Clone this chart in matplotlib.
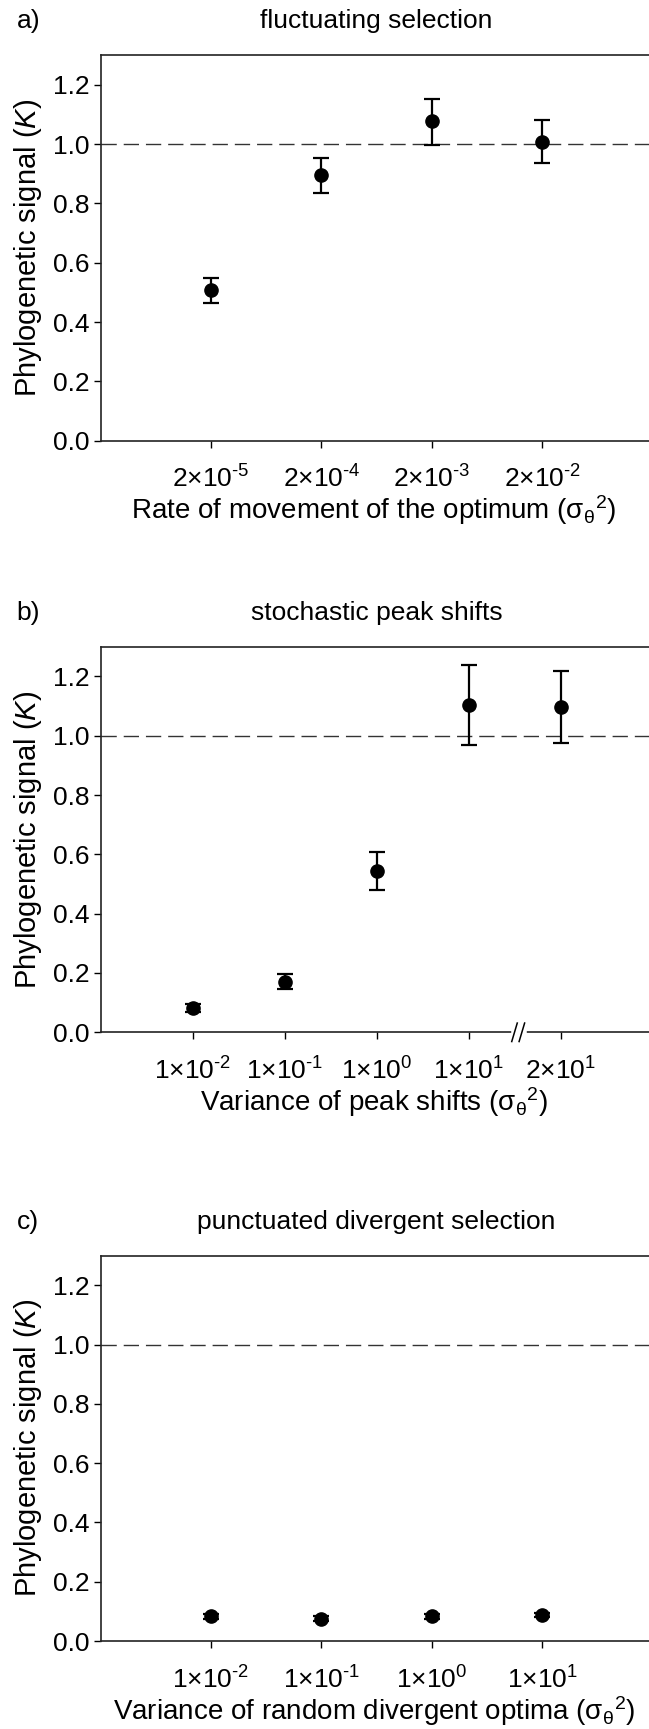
import matplotlib
matplotlib.use("Agg")
import matplotlib.pyplot as plt

plt.rcParams['font.family'] = ['Liberation Sans', 'DejaVu Sans']
plt.rcParams['mathtext.fontset'] = 'custom'
plt.rcParams['mathtext.rm'] = 'Liberation Sans'
plt.rcParams['mathtext.it'] = 'Liberation Sans:italic'
plt.rcParams['mathtext.bf'] = 'Liberation Sans:bold'
plt.rcParams['mathtext.default'] = 'regular'

# ---------------- data ----------------
a_labels = [r"$2{\times}10^{\text{-}5}$", r"$2{\times}10^{\text{-}4}$", r"$2{\times}10^{\text{-}3}$", r"$2{\times}10^{\text{-}2}$"]
a_k = [0.507, 0.895, 1.077, 1.008]
a_lo = [0.466, 0.836, 0.997, 0.935]
a_hi = [0.550, 0.952, 1.154, 1.082]

b_labels = [r"$1{\times}10^{\text{-}2}$", r"$1{\times}10^{\text{-}1}$", r"$1{\times}10^{0}$", r"$1{\times}10^{1}$", r"$2{\times}10^{1}$"]
b_k = [0.083, 0.171, 0.543, 1.103, 1.097]
b_lo = [0.070, 0.147, 0.479, 0.970, 0.976]
b_hi = [0.096, 0.197, 0.607, 1.237, 1.218]

c_labels = [r"$1{\times}10^{\text{-}2}$", r"$1{\times}10^{\text{-}1}$", r"$1{\times}10^{0}$", r"$1{\times}10^{1}$"]
c_k = [0.083, 0.076, 0.083, 0.088]
c_lo = [0.074, 0.068, 0.074, 0.080]
c_hi = [0.092, 0.084, 0.092, 0.096]

y_ticks = [0.0, 0.2, 0.4, 0.6, 0.8, 1.0, 1.2]

SIG = r"($\mathrm{σ}_{\mathrm{θ}}{}^{2}$)"
panels = [
    dict(tag="a)", title="fluctuating selection", labels=a_labels, k=a_k, lo=a_lo, hi=a_hi,
         xlabel="Rate of movement of the optimum " + SIG, xmax=5, bottom=0.7451),
    dict(tag="b)", title="stochastic peak shifts", labels=b_labels, k=b_k, lo=b_lo, hi=b_hi,
         xlabel="Variance of peak shifts " + SIG, xmax=6, bottom=0.40295),
    dict(tag="c)", title="punctuated divergent selection", labels=c_labels, k=c_k, lo=c_lo, hi=c_hi,
         xlabel="Variance of random divergent optima " + SIG, xmax=5, bottom=0.05084),
]

W, H = 649, 1729
fig = plt.figure(figsize=(W / 100, H / 100), dpi=100)

ax_h_px = 385.5
FS = 19

for p in panels:
    ax = fig.add_axes([100.5 / W, p["bottom"], 552 / W, ax_h_px / H])
    n = len(p["k"])
    xs = list(range(1, n + 1))
    yerr = [[k - l for k, l in zip(p["k"], p["lo"])], [h - k for k, h in zip(p["k"], p["hi"])]]
    ax.axhline(1.0, color="#333333", lw=1.0, linestyle=(0, (11, 5)), zorder=1)
    ax.errorbar(xs, p["k"], yerr=yerr, fmt="o", color="black", ms=9.5, capsize=6,
                elinewidth=1.6, capthick=1.6, zorder=3)
    ax.set_xlim(0, p["xmax"])
    ax.set_ylim(0, 1.3)
    ax.set_yticks(y_ticks)
    ax.set_yticklabels([f"{v:.1f}" for v in y_ticks])
    ax.set_xticks(xs)
    ax.set_xticklabels(p["labels"])
    ax.tick_params(axis="x", length=5, width=1, pad=13, labelsize=FS, direction="out")
    ax.tick_params(axis="y", length=5, width=1, pad=3, labelsize=FS, direction="out")
    for s in ["left", "bottom", "top"]:
        ax.spines[s].set_linewidth(1.2)
        ax.spines[s].set_color("#222222")
    ax.spines["right"].set_visible(False)

    ax.text(0.5, 1 + 27 / ax_h_px, p["title"], transform=ax.transAxes,
            ha="center", va="baseline", fontsize=FS)
    ax.text(-0.152, 1 + 27 / ax_h_px, p["tag"], transform=ax.transAxes,
            ha="left", va="baseline", fontsize=FS)
    ax.text(-0.131, 0.5, r"Phylogenetic signal ($\mathit{K}$)", transform=ax.transAxes,
            rotation=90, ha="center", va="center", fontsize=21)
    ax.text(0.495, -78.6 / ax_h_px, p["xlabel"], transform=ax.transAxes,
            ha="center", va="baseline", fontsize=20)

    if p["tag"] == "b)":
        tr = ax.get_xaxis_transform()
        ax.plot([4.49, 4.60], [0, 0], color="white", lw=4, transform=tr, clip_on=False, zorder=5)
        for xb in [4.50, 4.58]:
            ax.plot([xb - 0.03, xb + 0.03], [-0.024, 0.024], color="black", lw=1.1,
                    transform=tr, clip_on=False, zorder=6)

fig.savefig("out.png", dpi=100)
